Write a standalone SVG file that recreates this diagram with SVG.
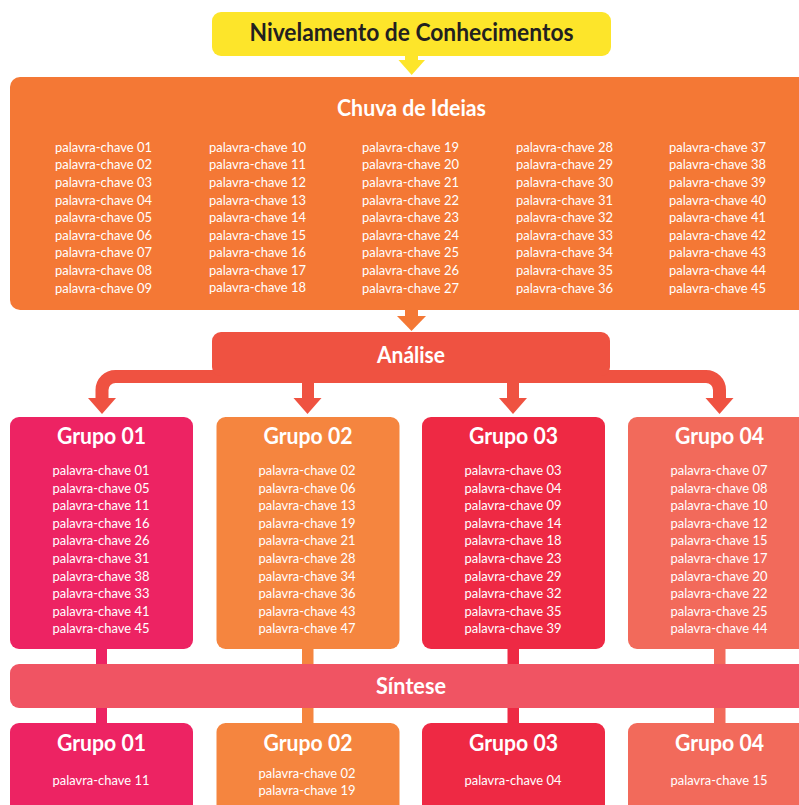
<svg xmlns="http://www.w3.org/2000/svg" width="799" height="805" viewBox="0 0 799 805">
<style>
.h{font-family:Lato,"Open Sans","Liberation Sans",sans-serif;font-weight:bold;fill:#fff;text-anchor:middle}
.kw{font-family:Lato,"Open Sans","Liberation Sans",sans-serif;font-size:13.5px;fill:#fff}
.c{text-anchor:middle}
</style>
<rect width="799" height="805" fill="#fff"/>
<g id="connectors">
  <rect x="405" y="54" width="13" height="7" fill="#FDE52A"/>
  <polygon points="398.5,60 425,60 411.7,75" fill="#FDE52A"/>
  <rect x="405" y="308" width="13" height="9" fill="#F47835"/>
  <polygon points="397,316 426,316 411.5,331" fill="#F47835"/>
  <path d="M 212 376.5 H 115.5 A 13.5 13.5 0 0 0 102 390 V 399 M 610 376.5 H 706 A 13.5 13.5 0 0 1 719.5 390 V 399 M 212 376.5 H 610" fill="none" stroke="#EF5241" stroke-width="13"/>
  <rect x="302" y="382" width="12" height="17" fill="#EF5241"/>
  <rect x="507" y="382" width="12" height="17" fill="#EF5241"/>
  <polygon points="88,398 116,398 102,414" fill="#EF5241"/>
  <polygon points="293.5,398 321.5,398 307.5,414" fill="#EF5241"/>
  <polygon points="499,398 527,398 513,414" fill="#EF5241"/>
  <polygon points="705.5,398 733.5,398 719.5,414" fill="#EF5241"/>
  <rect x="96" y="648" width="11" height="17" fill="#ED2363"/>
  <rect x="302" y="648" width="11.5" height="17" fill="#F5853F"/>
  <rect x="507.5" y="648" width="11.5" height="17" fill="#EE2944"/>
  <rect x="714" y="648" width="11.5" height="17" fill="#F26A5B"/>
  <rect x="96" y="707" width="11" height="17" fill="#ED2363"/>
  <rect x="302" y="707" width="11.5" height="17" fill="#F5853F"/>
  <rect x="507.5" y="707" width="11.5" height="17" fill="#EE2944"/>
  <rect x="714" y="707" width="11.5" height="17" fill="#F26A5B"/>
</g>
<g id="nivelamento">
  <rect x="212" y="12" width="399" height="44" rx="9" fill="#FDE52A"/>
  <text class="h" x="411.5" y="41" font-size="24" style="fill:#231F20" textLength="324" lengthAdjust="spacingAndGlyphs">Nivelamento de Conhecimentos</text>
</g>
<g id="chuva">
  <rect x="10" y="77" width="820" height="233" rx="10" fill="#F47835"/>
  <text class="h" x="411.5" y="116" font-size="22.5" textLength="149" lengthAdjust="spacingAndGlyphs">Chuva de Ideias</text>
  <g class="kw">
    <text x="55" y="151.5" textLength="97" lengthAdjust="spacingAndGlyphs">palavra-chave 01</text>
    <text x="55" y="169.2" textLength="97" lengthAdjust="spacingAndGlyphs">palavra-chave 02</text>
    <text x="55" y="186.8" textLength="97" lengthAdjust="spacingAndGlyphs">palavra-chave 03</text>
    <text x="55" y="204.5" textLength="97" lengthAdjust="spacingAndGlyphs">palavra-chave 04</text>
    <text x="55" y="222.1" textLength="97" lengthAdjust="spacingAndGlyphs">palavra-chave 05</text>
    <text x="55" y="239.8" textLength="97" lengthAdjust="spacingAndGlyphs">palavra-chave 06</text>
    <text x="55" y="257.4" textLength="97" lengthAdjust="spacingAndGlyphs">palavra-chave 07</text>
    <text x="55" y="275.1" textLength="97" lengthAdjust="spacingAndGlyphs">palavra-chave 08</text>
    <text x="55" y="292.7" textLength="97" lengthAdjust="spacingAndGlyphs">palavra-chave 09</text>
    <text x="209" y="151.5" textLength="97" lengthAdjust="spacingAndGlyphs">palavra-chave 10</text>
    <text x="209" y="169.2" textLength="97" lengthAdjust="spacingAndGlyphs">palavra-chave 11</text>
    <text x="209" y="186.8" textLength="97" lengthAdjust="spacingAndGlyphs">palavra-chave 12</text>
    <text x="209" y="204.5" textLength="97" lengthAdjust="spacingAndGlyphs">palavra-chave 13</text>
    <text x="209" y="222.1" textLength="97" lengthAdjust="spacingAndGlyphs">palavra-chave 14</text>
    <text x="209" y="239.8" textLength="97" lengthAdjust="spacingAndGlyphs">palavra-chave 15</text>
    <text x="209" y="257.4" textLength="97" lengthAdjust="spacingAndGlyphs">palavra-chave 16</text>
    <text x="209" y="275.1" textLength="97" lengthAdjust="spacingAndGlyphs">palavra-chave 17</text>
    <text x="209" y="291.7" textLength="97" lengthAdjust="spacingAndGlyphs">palavra-chave 18</text>
    <text x="362" y="151.5" textLength="97" lengthAdjust="spacingAndGlyphs">palavra-chave 19</text>
    <text x="362" y="169.2" textLength="97" lengthAdjust="spacingAndGlyphs">palavra-chave 20</text>
    <text x="362" y="186.8" textLength="97" lengthAdjust="spacingAndGlyphs">palavra-chave 21</text>
    <text x="362" y="204.5" textLength="97" lengthAdjust="spacingAndGlyphs">palavra-chave 22</text>
    <text x="362" y="222.1" textLength="97" lengthAdjust="spacingAndGlyphs">palavra-chave 23</text>
    <text x="362" y="239.8" textLength="97" lengthAdjust="spacingAndGlyphs">palavra-chave 24</text>
    <text x="362" y="257.4" textLength="97" lengthAdjust="spacingAndGlyphs">palavra-chave 25</text>
    <text x="362" y="275.1" textLength="97" lengthAdjust="spacingAndGlyphs">palavra-chave 26</text>
    <text x="362" y="292.7" textLength="97" lengthAdjust="spacingAndGlyphs">palavra-chave 27</text>
    <text x="516" y="151.5" textLength="97" lengthAdjust="spacingAndGlyphs">palavra-chave 28</text>
    <text x="516" y="169.2" textLength="97" lengthAdjust="spacingAndGlyphs">palavra-chave 29</text>
    <text x="516" y="186.8" textLength="97" lengthAdjust="spacingAndGlyphs">palavra-chave 30</text>
    <text x="516" y="204.5" textLength="97" lengthAdjust="spacingAndGlyphs">palavra-chave 31</text>
    <text x="516" y="222.1" textLength="97" lengthAdjust="spacingAndGlyphs">palavra-chave 32</text>
    <text x="516" y="239.8" textLength="97" lengthAdjust="spacingAndGlyphs">palavra-chave 33</text>
    <text x="516" y="257.4" textLength="97" lengthAdjust="spacingAndGlyphs">palavra-chave 34</text>
    <text x="516" y="275.1" textLength="97" lengthAdjust="spacingAndGlyphs">palavra-chave 35</text>
    <text x="516" y="292.7" textLength="97" lengthAdjust="spacingAndGlyphs">palavra-chave 36</text>
    <text x="669" y="151.5" textLength="97" lengthAdjust="spacingAndGlyphs">palavra-chave 37</text>
    <text x="669" y="169.2" textLength="97" lengthAdjust="spacingAndGlyphs">palavra-chave 38</text>
    <text x="669" y="186.8" textLength="97" lengthAdjust="spacingAndGlyphs">palavra-chave 39</text>
    <text x="669" y="204.5" textLength="97" lengthAdjust="spacingAndGlyphs">palavra-chave 40</text>
    <text x="669" y="222.1" textLength="97" lengthAdjust="spacingAndGlyphs">palavra-chave 41</text>
    <text x="669" y="239.8" textLength="97" lengthAdjust="spacingAndGlyphs">palavra-chave 42</text>
    <text x="669" y="257.4" textLength="97" lengthAdjust="spacingAndGlyphs">palavra-chave 43</text>
    <text x="669" y="275.1" textLength="97" lengthAdjust="spacingAndGlyphs">palavra-chave 44</text>
    <text x="669" y="292.7" textLength="97" lengthAdjust="spacingAndGlyphs">palavra-chave 45</text>
  </g>
</g>
<g id="analise">
  <rect x="212" y="332" width="398" height="44" rx="9" fill="#EF5241"/>
  <text class="h" x="411" y="363" font-size="22" textLength="68" lengthAdjust="spacingAndGlyphs">Análise</text>
</g>
<g id="grupo01">
  <rect x="10" y="417" width="183" height="232" rx="9" fill="#ED2363"/>
  <text class="h" x="101.5" y="444" font-size="22.5" textLength="89" lengthAdjust="spacingAndGlyphs">Grupo 01</text>
  <g class="kw c">
    <text x="101" y="475" textLength="97" lengthAdjust="spacingAndGlyphs">palavra-chave 01</text>
    <text x="101" y="492.6" textLength="97" lengthAdjust="spacingAndGlyphs">palavra-chave 05</text>
    <text x="101" y="510.2" textLength="97" lengthAdjust="spacingAndGlyphs">palavra-chave 11</text>
    <text x="101" y="527.8" textLength="97" lengthAdjust="spacingAndGlyphs">palavra-chave 16</text>
    <text x="101" y="545.4" textLength="97" lengthAdjust="spacingAndGlyphs">palavra-chave 26</text>
    <text x="101" y="563" textLength="97" lengthAdjust="spacingAndGlyphs">palavra-chave 31</text>
    <text x="101" y="580.6" textLength="97" lengthAdjust="spacingAndGlyphs">palavra-chave 38</text>
    <text x="101" y="598.2" textLength="97" lengthAdjust="spacingAndGlyphs">palavra-chave 33</text>
    <text x="101" y="615.8" textLength="97" lengthAdjust="spacingAndGlyphs">palavra-chave 41</text>
    <text x="101" y="633.4" textLength="97" lengthAdjust="spacingAndGlyphs">palavra-chave 45</text>
  </g>
</g>
<g id="grupo02">
  <rect x="216.5" y="417" width="183" height="232" rx="9" fill="#F5853F"/>
  <text class="h" x="308" y="444" font-size="22.5" textLength="89" lengthAdjust="spacingAndGlyphs">Grupo 02</text>
  <g class="kw c">
    <text x="307" y="475" textLength="97" lengthAdjust="spacingAndGlyphs">palavra-chave 02</text>
    <text x="307" y="492.6" textLength="97" lengthAdjust="spacingAndGlyphs">palavra-chave 06</text>
    <text x="307" y="510.2" textLength="97" lengthAdjust="spacingAndGlyphs">palavra-chave 13</text>
    <text x="307" y="527.8" textLength="97" lengthAdjust="spacingAndGlyphs">palavra-chave 19</text>
    <text x="307" y="545.4" textLength="97" lengthAdjust="spacingAndGlyphs">palavra-chave 21</text>
    <text x="307" y="563" textLength="97" lengthAdjust="spacingAndGlyphs">palavra-chave 28</text>
    <text x="307" y="580.6" textLength="97" lengthAdjust="spacingAndGlyphs">palavra-chave 34</text>
    <text x="307" y="598.2" textLength="97" lengthAdjust="spacingAndGlyphs">palavra-chave 36</text>
    <text x="307" y="615.8" textLength="97" lengthAdjust="spacingAndGlyphs">palavra-chave 43</text>
    <text x="307" y="633.4" textLength="97" lengthAdjust="spacingAndGlyphs">palavra-chave 47</text>
  </g>
</g>
<g id="grupo03">
  <rect x="422" y="417" width="183" height="232" rx="9" fill="#EE2944"/>
  <text class="h" x="513.5" y="444" font-size="22.5" textLength="89" lengthAdjust="spacingAndGlyphs">Grupo 03</text>
  <g class="kw c">
    <text x="513" y="475" textLength="97" lengthAdjust="spacingAndGlyphs">palavra-chave 03</text>
    <text x="513" y="492.6" textLength="97" lengthAdjust="spacingAndGlyphs">palavra-chave 04</text>
    <text x="513" y="510.2" textLength="97" lengthAdjust="spacingAndGlyphs">palavra-chave 09</text>
    <text x="513" y="527.8" textLength="97" lengthAdjust="spacingAndGlyphs">palavra-chave 14</text>
    <text x="513" y="545.4" textLength="97" lengthAdjust="spacingAndGlyphs">palavra-chave 18</text>
    <text x="513" y="563" textLength="97" lengthAdjust="spacingAndGlyphs">palavra-chave 23</text>
    <text x="513" y="580.6" textLength="97" lengthAdjust="spacingAndGlyphs">palavra-chave 29</text>
    <text x="513" y="598.2" textLength="97" lengthAdjust="spacingAndGlyphs">palavra-chave 32</text>
    <text x="513" y="615.8" textLength="97" lengthAdjust="spacingAndGlyphs">palavra-chave 35</text>
    <text x="513" y="633.4" textLength="97" lengthAdjust="spacingAndGlyphs">palavra-chave 39</text>
  </g>
</g>
<g id="grupo04">
  <rect x="628" y="417" width="183" height="232" rx="9" fill="#F26A5B"/>
  <text class="h" x="719.5" y="444" font-size="22.5" textLength="89" lengthAdjust="spacingAndGlyphs">Grupo 04</text>
  <g class="kw c">
    <text x="719" y="475" textLength="97" lengthAdjust="spacingAndGlyphs">palavra-chave 07</text>
    <text x="719" y="492.6" textLength="97" lengthAdjust="spacingAndGlyphs">palavra-chave 08</text>
    <text x="719" y="510.2" textLength="97" lengthAdjust="spacingAndGlyphs">palavra-chave 10</text>
    <text x="719" y="527.8" textLength="97" lengthAdjust="spacingAndGlyphs">palavra-chave 12</text>
    <text x="719" y="545.4" textLength="97" lengthAdjust="spacingAndGlyphs">palavra-chave 15</text>
    <text x="719" y="563" textLength="97" lengthAdjust="spacingAndGlyphs">palavra-chave 17</text>
    <text x="719" y="580.6" textLength="97" lengthAdjust="spacingAndGlyphs">palavra-chave 20</text>
    <text x="719" y="598.2" textLength="97" lengthAdjust="spacingAndGlyphs">palavra-chave 22</text>
    <text x="719" y="615.8" textLength="97" lengthAdjust="spacingAndGlyphs">palavra-chave 25</text>
    <text x="719" y="633.4" textLength="97" lengthAdjust="spacingAndGlyphs">palavra-chave 44</text>
  </g>
</g>
<g id="sintese">
  <rect x="10" y="664" width="820" height="44" rx="9" fill="#F05463"/>
  <text class="h" x="411" y="694" font-size="22.5" textLength="70" lengthAdjust="spacingAndGlyphs">Síntese</text>
</g>
<g id="final01">
  <rect x="10" y="723" width="183" height="100" rx="9" fill="#ED2363"/>
  <text class="h" x="101.5" y="751" font-size="22.5" textLength="89" lengthAdjust="spacingAndGlyphs">Grupo 01</text>
  <text class="kw c" x="101" y="785" textLength="97" lengthAdjust="spacingAndGlyphs">palavra-chave 11</text>
</g>
<g id="final02">
  <rect x="216.5" y="723" width="183" height="100" rx="9" fill="#F5853F"/>
  <text class="h" x="308" y="751" font-size="22.5" textLength="89" lengthAdjust="spacingAndGlyphs">Grupo 02</text>
  <text class="kw c" x="307" y="777.5" textLength="97" lengthAdjust="spacingAndGlyphs">palavra-chave 02</text>
  <text class="kw c" x="307" y="795" textLength="97" lengthAdjust="spacingAndGlyphs">palavra-chave 19</text>
</g>
<g id="final03">
  <rect x="422" y="723" width="183" height="100" rx="9" fill="#EE2944"/>
  <text class="h" x="513.5" y="751" font-size="22.5" textLength="89" lengthAdjust="spacingAndGlyphs">Grupo 03</text>
  <text class="kw c" x="513" y="785" textLength="97" lengthAdjust="spacingAndGlyphs">palavra-chave 04</text>
</g>
<g id="final04">
  <rect x="628" y="723" width="183" height="100" rx="9" fill="#F26A5B"/>
  <text class="h" x="719.5" y="751" font-size="22.5" textLength="89" lengthAdjust="spacingAndGlyphs">Grupo 04</text>
  <text class="kw c" x="719" y="785" textLength="97" lengthAdjust="spacingAndGlyphs">palavra-chave 15</text>
</g>
</svg>
